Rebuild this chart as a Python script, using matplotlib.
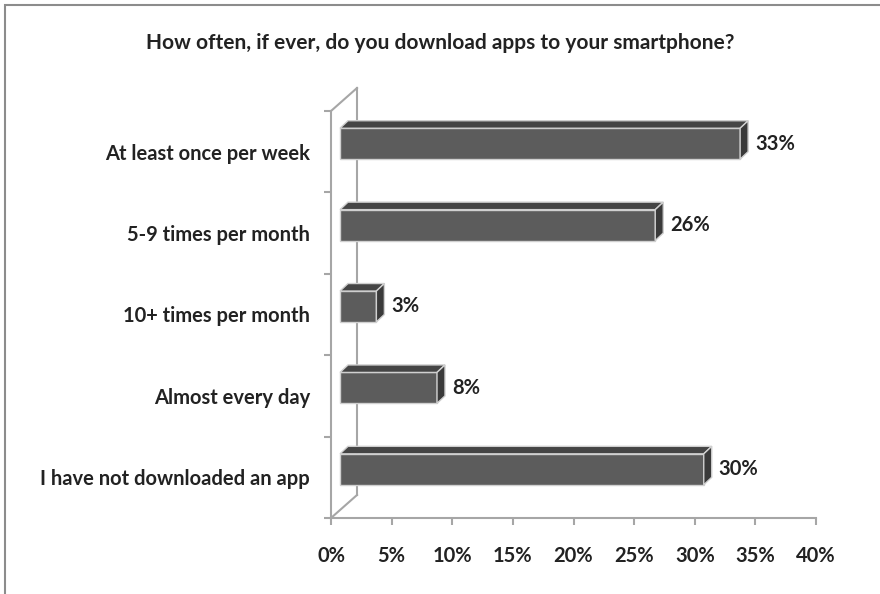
import numpy as np
import matplotlib.pyplot as plt
from matplotlib.patches import Polygon, Rectangle

categories = ["At least once per week", "5-9 times per month", "10+ times per month",
              "Almost every day", "I have not downloaded an app"]
values = [33, 26, 3, 8, 30]
xticks = [0, 5, 10, 15, 20, 25, 30, 35, 40]
title = "How often, if ever, do you download apps to your smartphone?"

plt.rcParams['font.family'] = ['Lato', 'DejaVu Sans']

W, H = 880, 594
fig = plt.figure(figsize=(W / 100, H / 100), dpi=100)
# axes placed in pixel terms (left, right, top, bottom of the plot area)
L, R, T, B = 331, 816, 111, 518
ax = fig.add_axes([L / W, (H - B) / H, (R - L) / W, (B - T) / H])
ax.set_xlim(0, 40)
ax.set_ylim(-0.5, 4.5)

px_x = 40 / (R - L)
px_y = 5 / (B - T)

n = len(categories)
ypos = np.arange(n)[::-1]
bar_h = 0.38
fdx, fdy = 9 * px_x, 8 * px_y      # shift of bar front into depth
ddx, ddy = 8 * px_x, 7.5 * px_y    # bar thickness

front = "#5c5c5c"
top_c = "#454545"
side_c = "#3a3a3a"
edge = "#d0d0d0"
txt_c = "#222222"
fs = 14.5

# back wall
wx, wy = 26 * px_x, 23 * px_y
wall_c = "#a6a6a6"
ax.plot([wx, wx], [-0.5 + wy, 4.5 + wy], color=wall_c, lw=1.5, clip_on=False)
ax.plot([0, wx], [4.5, 4.5 + wy], color=wall_c, lw=1.5, clip_on=False)
ax.plot([0, wx], [-0.5, -0.5 + wy], color=wall_c, lw=1.5, clip_on=False)

ax.barh(ypos + fdy, values, left=fdx, height=bar_h, color=front,
        edgecolor=edge, linewidth=1, zorder=3)
for y, v in zip(ypos, values):
    x0, x1 = fdx, fdx + v
    yt = y + fdy + bar_h / 2
    yb = y + fdy - bar_h / 2
    ax.add_patch(Polygon([(x0, yt), (x1, yt), (x1 + ddx, yt + ddy), (x0 + ddx, yt + ddy)],
                         closed=True, facecolor=top_c, edgecolor=edge, lw=1, zorder=3))
    ax.add_patch(Polygon([(x1, yb), (x1 + ddx, yb + ddy), (x1 + ddx, yt + ddy), (x1, yt)],
                         closed=True, facecolor=side_c, edgecolor=edge, lw=1, zorder=3))
    ax.text(x1 + ddx + 7 * px_x, y + fdy, f"{v}%", va="center", ha="left",
            fontsize=fs, fontweight="bold", color=txt_c)

for s in ["top", "right"]:
    ax.spines[s].set_visible(False)
for s in ["left", "bottom"]:
    ax.spines[s].set_color(wall_c)
    ax.spines[s].set_linewidth(1.5)

ax.set_xticks(xticks)
ax.set_xticklabels([f"{t}%" for t in xticks], fontsize=fs, fontweight="bold", color=txt_c)
ax.tick_params(axis="x", length=5, width=1.5, color=wall_c, pad=15)

ax.set_yticks(ypos)
ax.set_yticklabels(categories, fontsize=fs, fontweight="bold", color=txt_c)
ax.set_yticks(np.arange(-0.5, 5, 1), minor=True)
ax.tick_params(axis="y", which="major", length=0, pad=15)
ax.tick_params(axis="y", which="minor", length=5, width=1.5, color=wall_c)

fig.text(0.5, 1 - 43 / H, title, ha="center", va="center", fontsize=15,
         fontweight="bold", color=txt_c)

# outer frame (only top and left visible in the crop)
fig.patches.append(Rectangle((5 / W, -0.1), 1.2, 1.1 - 5 / H, transform=fig.transFigure,
                             fill=False, edgecolor="#8c8c8c", lw=1.5))

fig.savefig("out.png", dpi=100)
